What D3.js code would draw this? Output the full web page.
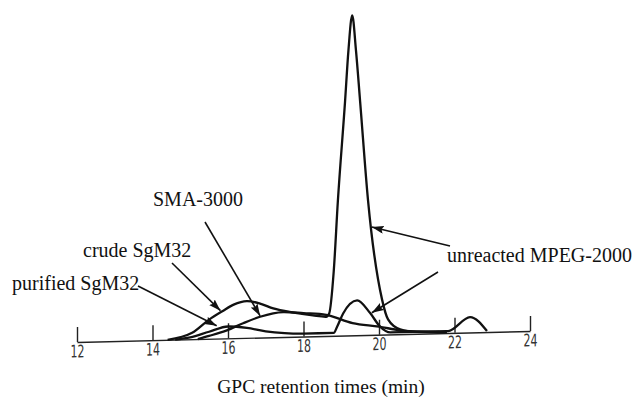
<!DOCTYPE html>
<html>
<head>
<meta charset="utf-8">
<script src="https://cdn.jsdelivr.net/npm/d3@7"></script>
<style>
  body { margin: 0; background: #fff; }
  svg { display: block; }
</style>
</head>
<body>
<svg id="chart"></svg>
<script>

/* GPC traces, retention time (min) vs detector response (peak = 100) */
var seriesNames = ["crude SgM32", "SMA-3000", "purified SgM32"];

var crudeTime = [14.4, 15.05, 15.5, 15.85, 16.15, 16.5, 16.85, 17.2, 17.7, 18.25, 18.6, 18.68, 18.8, 18.91, 19.1, 19.19, 19.29, 19.39, 19.5, 19.71, 20.08, 20.24, 20.56, 21.0, 21.6];
var crudeResp = [0, 2, 6, 8.5, 10.5, 11.5, 10.6, 9, 7.6, 6.5, 6, 7, 20, 42, 73, 89, 100, 89, 73, 42, 11, 4.7, 1.5, 0.6, 0.4];

var smaTime = [15.2, 15.5, 15.97, 16.4, 16.85, 17.46, 18.0, 18.6, 19.3, 20.0, 20.56, 21.3, 21.8];
var smaResp = [0, 0.9, 2.5, 4.6, 6.5, 7.8, 7.3, 6.6, 3.8, 2.5, 1.2, 0.5, 0.2];

var purTime = [14.6, 15.0, 15.5, 16.0, 16.5, 17.0, 17.5, 18.0, 18.8, 18.89, 19.05, 19.42, 19.76, 20.03, 20.3, 21.83, 22.41, 22.86];
var purResp = [0, 0.6, 2.2, 3.7, 3.1, 1.9, 1.2, 0.9, 0.9, 2.8, 6.9, 10.9, 6.9, 2.5, 0.6, 0.6, 4.8, 0.3];

var tickValues = [12, 14, 16, 18, 20, 22, 24];

// annotations: label, text position, arrow tail, arrow tip (time, response)
var notes = [
  {text: "SMA-3000", x: 153, y: 206, tail: [205, 222], tip: [16.85, 6.8]},
  {text: "crude SgM32", x: 83, y: 257, tail: [172, 263], tip: [15.8, 8.7]},
  {text: "purified SgM32", x: 12, y: 290, tail: [138, 286], tip: [15.7, 4]},
  {text: "unreacted MPEG-2000", x: 447, y: 262, tail: [450, 246], tip: [19.81, 33.7]},
  {text: "", x: 0, y: 0, tail: [438, 272], tip: [19.81, 6.9]}
];

var svgwidth = 632, svgheight = 406;
var origin = {x: 77, y: 342};
var axisLen = 453;
var slope = -11 / 453;   // baseline drifts up to the right
var plotHeight = 320;

var svg = d3.select("#chart")
    .attr("width", svgwidth)
    .attr("height", svgheight);

var xScale = d3.scaleLinear().domain([12, 24]).range([0, axisLen]);
var yScale = d3.scaleLinear().domain([0, 100]).range([0, -plotHeight]);

function toPage(t, r) {
    var lx = xScale(t);
    return [origin.x + lx, origin.y + lx * slope + yScale(r)];
}

var plot = svg.append("g")
    .attr("transform", "translate(" + origin.x + "," + origin.y + ") skewY(" + (Math.atan(slope) * 180 / Math.PI) + ")");

//Axis
var xAxis = d3.axisBottom(xScale)
    .tickValues(tickValues)
    .tickSizeInner(-15)
    .tickSizeOuter(0)
    .tickPadding(3);

var gx = plot.append("g").attr("class", "xAxis").call(xAxis);
gx.select(".domain").attr("stroke", "#222").attr("stroke-width", 1.4);
gx.selectAll(".tick line").attr("stroke", "#222").attr("stroke-width", 1.4);
gx.selectAll(".tick text")
    .attr("font-family", "'DejaVu Sans Condensed', 'DejaVu Sans', sans-serif")
    .attr("font-size", 17.5)
    .attr("fill", "#333")
    .attr("transform", "scale(0.7,1)");

//Traces
var line = d3.line()
    .x(function(d){ return xScale(d[0]); })
    .y(function(d){ return yScale(d[1]); })
    .curve(d3.curveMonotoneX);

var traces = [
    d3.zip(crudeTime, crudeResp),
    d3.zip(smaTime, smaResp),
    d3.zip(purTime, purResp)
];

plot.selectAll(".trace")
    .data(traces)
    .enter()
    .append("path")
    .attr("class", "trace")
    .attr("d", line)
    .attr("fill", "none")
    .attr("stroke", "#111")
    .attr("stroke-width", 2.3)
    .attr("stroke-linejoin", "round");

//Arrowhead
svg.append("defs").append("marker")
    .attr("id", "head")
    .attr("markerUnits", "userSpaceOnUse")
    .attr("markerWidth", 13)
    .attr("markerHeight", 8)
    .attr("refX", 12)
    .attr("refY", 4)
    .attr("orient", "auto")
    .append("path")
    .attr("d", "M0,0 L12,4 L0,8 L2,4 Z")
    .attr("fill", "#111");

svg.selectAll(".arrow")
    .data(notes)
    .enter()
    .append("line")
    .attr("class", "arrow")
    .attr("x1", function(d){ return d.tail[0]; })
    .attr("y1", function(d){ return d.tail[1]; })
    .attr("x2", function(d){ return toPage(d.tip[0], d.tip[1])[0]; })
    .attr("y2", function(d){ return toPage(d.tip[0], d.tip[1])[1]; })
    .attr("stroke", "#111")
    .attr("stroke-width", 1.6)
    .attr("marker-end", "url(#head)");

svg.selectAll(".label")
    .data(notes.filter(function(d){ return d.text; }))
    .enter()
    .append("text")
    .attr("class", "label")
    .attr("x", function(d){ return d.x; })
    .attr("y", function(d){ return d.y; })
    .attr("font-family", "'Liberation Serif', 'Times New Roman', serif")
    .attr("font-size", 20)
    .attr("fill", "#111")
    .text(function(d){ return d.text; });

svg.append("text")
    .attr("x", 321)
    .attr("y", 393)
    .attr("text-anchor", "middle")
    .attr("font-family", "'Liberation Serif', 'Times New Roman', serif")
    .attr("font-size", 19.5)
    .attr("fill", "#111")
    .text("GPC retention times (min)");

</script>
</body>
</html>
